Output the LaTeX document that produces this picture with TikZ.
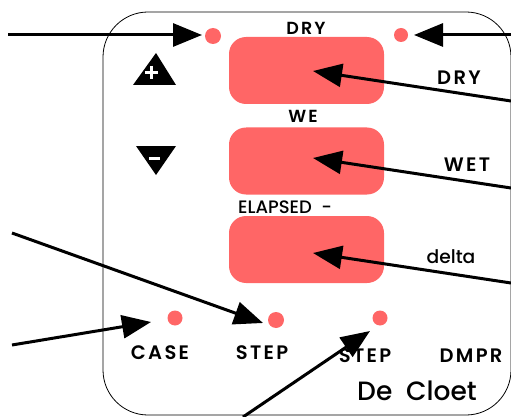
\documentclass[tikz,border=0pt]{standalone}
\usepackage{fontspec}
\setmainfont{Poppins}
\newfontfamily\labelfont[LetterSpace=12]{Poppins SemiBold}
\newfontfamily\nearfont{Poppins Medium}
\usetikzlibrary{arrows.meta}
\definecolor{panelred}{HTML}{FF6666}
\tikzset{
	dot/.style={circle,fill=panelred,inner sep=0pt,minimum size=#1},
	display/.style={rounded corners=17pt,fill=panelred,inner sep=0pt,minimum width=155pt,minimum height=67pt},
	keylabel/.style={inner sep=0pt,font=\labelfont\fontsize{19.5}{20}\selectfont},
	smalllabel/.style={inner sep=0pt,font=\labelfont\fontsize{17.5}{18}\selectfont},
	pointer/.style={line width=3pt,-{Triangle[length=29pt,width=23pt]}}
}
\begin{document}
\begin{tikzpicture}[x=1pt,y=-1pt]
	\useasboundingbox (0,0) rectangle (511,417);
		\draw[line width=0.8pt] (103,12) ++(0,45) arc(180:270:45) -- (466,12) arc(270:360:45) -- (511,370) arc(0:90:45) -- (148,415) arc(90:180:45) -- cycle;
		\node[dot=16pt] (leddryl) at (213,36) {};
		\node[dot=14pt] (leddryr) at (401,35) {};
		\node[dot=15pt] (ledcase) at (175,318) {};
		\node[dot=16pt] (ledstepa) at (276,320) {};
		\node[dot=15pt] (ledstepb) at (380,318) {};
		\node[display] (dispdry) at (306.5,70.5) {};
		\node[display] (dispwet) at (306.5,161) {};
		\node[display] (dispdelta) at (306.5,249.5) {};
			\fill (156,53) -- (176,85) -- (133,85) -- cycle;
			\draw[white,line width=2.6pt] (145,72.7) -- (158,72.7) (151.7,66) -- (151.7,79);
			\fill (136,146) -- (176,146) -- (156,175) -- cycle;
			\draw[white,line width=2.6pt] (149,158.5) -- (160,158.5);
		\node[smalllabel] (lbldry) at (306,28) {DRY};
		\node[smalllabel] (lblwe) at (303,116) {WE};
		\node[inner sep=0pt,font=\nearfont\fontsize{18}{18}\selectfont] (lblelapsed) at (285,207) {ELAPSED\ \ -};
		\node[keylabel] (lblcase) at (160,353) {CASE};
		\node[keylabel] (lblstepa) at (262,353) {STEP};
		\node[keylabel] (lblstepb) at (365,356) {STEP};
		\node[keylabel] (lbldmpr) at (471,356) {DMPR};
		\node[keylabel] (txtdry) at (459,78) {DRY};
		\node[keylabel] (txtwet) at (467,165) {WET};
		\node[inner sep=0pt,font=\nearfont\fontsize{18.7}{19}\selectfont] (txtdelta) at (451,257) {delta};
		\node[inner sep=0pt,font=\nearfont\fontsize{26.5}{27}\selectfont] (txtname) at (417,391) {De\ \ Cloet};
			\coordinate (inleddry) at (8,35);
			\coordinate (tipleddry) at (202,35);
			\coordinate (inledright) at (511,35);
			\coordinate (tipledright) at (414,35);
			\coordinate (indry) at (511,101);
			\coordinate (tipdry) at (313,71);
			\coordinate (inwet) at (511,188);
			\coordinate (tipwet) at (313,158);
			\coordinate (indelta) at (511,283);
			\coordinate (tipdelta) at (313,253);
			\coordinate (instepa) at (12,233);
			\coordinate (tipstepa) at (263,323);
			\coordinate (incase) at (12,345);
			\coordinate (tipcase) at (151,322);
			\coordinate (instepb) at (243,417);
			\coordinate (tipstepb) at (370,331);
				\draw[pointer] (inleddry) -- (tipleddry);
				\draw[pointer] (inledright) -- (tipledright);
				\draw[pointer] (indry) -- (tipdry);
				\draw[pointer] (inwet) -- (tipwet);
				\draw[pointer] (indelta) -- (tipdelta);
				\draw[pointer] (instepa) -- (tipstepa);
				\draw[pointer] (incase) -- (tipcase);
				\draw[pointer] (instepb) -- (tipstepb);
\end{tikzpicture}
\end{document}
